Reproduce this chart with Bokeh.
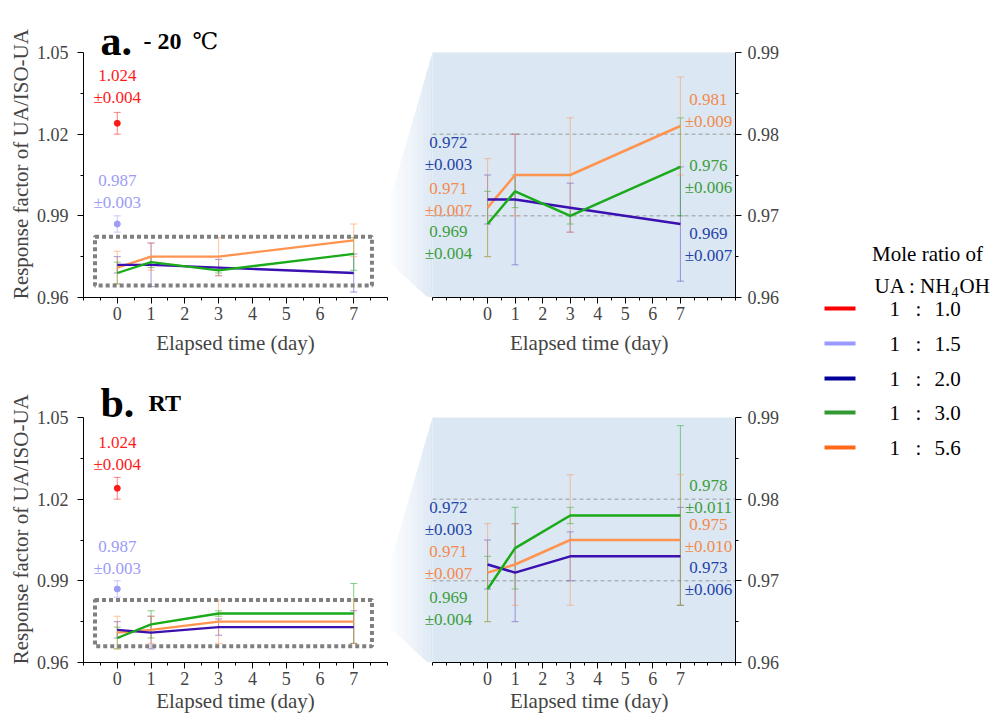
import numpy as np
from bokeh.plotting import figure
from bokeh.models import Range1d, FixedTicker
from bokeh.layouts import row, column
from bokeh.embed import file_html
from bokeh.resources import INLINE
from bokeh.core.properties import value

FONT = "Liberation Serif"

# ---------------- data ----------------
days = [0, 1, 3, 7]
day0 = [0]

# -20 C storage
cold_blue = [0.972, 0.972, 0.971, 0.969]
cold_blue_err = [0.003, 0.008, 0.003, 0.007]
cold_green = [0.969, 0.973, 0.970, 0.976]
cold_green_err = [0.004, 0.002, 0.001, 0.006]
cold_orange = [0.971, 0.975, 0.975, 0.981]
cold_orange_err = [0.006, 0.005, 0.007, 0.006]

# room temperature storage
rt_blue = [0.972, 0.971, 0.973, 0.973]
rt_blue_err = [0.003, 0.006, 0.003, 0.006]
rt_green = [0.969, 0.974, 0.978, 0.978]
rt_green_err = [0.004, 0.005, 0.001, 0.011]
rt_orange = [0.971, 0.972, 0.975, 0.975]
rt_orange_err = [0.006, 0.005, 0.008, 0.008]

red_val = [1.024]
red_err = [0.004]
lilac_val = [0.987]
lilac_err = [0.003]

# annotation texts
main_notes = ["1.024\n±0.004", "0.987\n±0.003"]
cold_left_notes = ["0.972\n±0.003", "0.971\n±0.007", "0.969\n±0.004"]
cold_right_notes = ["0.981\n±0.009", "0.976\n±0.006", "0.969\n±0.007"]
rt_left_notes = ["0.972\n±0.003", "0.971\n±0.007", "0.969\n±0.004"]
rt_right_notes = ["0.978\n±0.011", "0.975\n±0.010", "0.973\n±0.006"]

# ticks
left_yticks = [0.96, 0.99, 1.02, 1.05]
left_yminor = [0.975, 1.005, 1.035]
zoom_yticks = [0.96, 0.97, 0.98, 0.99]
zoom_yminor = [0.965, 0.975, 0.985]
grid_levels = [0.97, 0.98]
xticks = [0, 1, 2, 3, 4, 5, 6, 7]

legend_ratios = ["1.0", "1.5", "2.0", "3.0", "5.6"]
legend_colors = ["#ff0000", "#9999ff", "#000099", "#339933", "#ff6a1a"]

# ---------------- styles ----------------
C_RED = "#ff1a1a"
C_LILAC = "#9c9cf7"
C_BLUE = "#3a10b0"
C_GREEN = "#1aaa1a"
C_ORANGE = "#ff9450"
T_BLUE = "#2543a8"
T_GREEN = "#3d9e3d"
T_ORANGE = "#f38a4c"
BG = "#dbe7f3"
NB = "\u00a0"

FH = 245                 # height of the data part of every frame
TOP_B = [52, 57]         # page distance above the data part
EXT = [48, 53]           # extra frame height above the data part (title room)
BOT_B = [63, 53]
LW = 304
RW = 345
TITLE_GAP = [12, 15]
YPAD = [5, 6]            # non-breaking spaces to nudge the y label toward the data part
XLAB_STANDOFF = [8, 1]


def style_axes(p):
    for ax in p.axis:
        ax.major_label_text_font = FONT
        ax.major_label_text_font_size = "18px"
        ax.axis_label_text_font = FONT
        ax.axis_label_text_font_size = "21px"
        ax.axis_label_text_font_style = "normal"
        ax.major_tick_in = 0
        ax.major_tick_out = 6
        ax.minor_tick_in = 0
        ax.minor_tick_out = 3
        ax.axis_line_color = "black"
        ax.major_tick_line_color = "black"
        ax.minor_tick_line_color = "black"
    p.xgrid.visible = False
    p.ygrid.visible = False
    p.outline_line_color = None


def errbars(p, x, v, e, color, alpha=0.55):
    v = np.array(v)
    e = np.array(e)
    lo = v - e
    hi = v + e
    p.segment(x0=x, y0=lo, x1=x, y1=hi, line_color=color, line_alpha=alpha, line_width=1)
    p.scatter(list(x) + list(x), list(lo) + list(hi), marker="dash", size=7,
              line_color=color, line_alpha=alpha, line_width=1)


def left_panel(i, blue, be, green, ge, orange, oe, tmain, tsub, sub_dx, deg_dx, note_y, box_y):
    ext = EXT[i]
    ytop = 1.05 + ext * 0.09 / FH
    p = figure(frame_width=LW, frame_height=FH + ext, x_range=Range1d(-1, 8), y_range=Range1d(0.96, ytop),
               output_backend="svg", toolbar_location=None,
               min_border_left=83, min_border_right=3, min_border_top=TOP_B[i] - ext,
               min_border_bottom=BOT_B[i])
    style_axes(p)
    p.yaxis.bounds = (0.96, 1.05)
    p.xaxis.ticker = FixedTicker(ticks=xticks, minor_ticks=list(np.arange(-1, 8.01, 0.5)))
    p.yaxis.ticker = FixedTicker(ticks=left_yticks, minor_ticks=left_yminor)
    p.yaxis.formatter.use_scientific = False
    p.xaxis.axis_label = "Elapsed time (day)"
    p.yaxis.axis_label = "Response factor of UA/ISO-UA" + NB * YPAD[i]
    p.yaxis.major_label_standoff = 9
    p.yaxis.axis_label_standoff = 1
    p.xaxis.major_label_standoff = 3
    p.xaxis.axis_label_standoff = XLAB_STANDOFF[i]

    errbars(p, day0, red_val, red_err, C_RED)
    errbars(p, day0, lilac_val, lilac_err, C_LILAC)
    errbars(p, days, blue, be, C_BLUE, 0.45)
    errbars(p, days, green, ge, C_GREEN)
    errbars(p, days, orange, oe, C_ORANGE)
    p.line(days, orange, line_color=C_ORANGE, line_width=2.3)
    p.line(days, blue, line_color=C_BLUE, line_width=2.3)
    p.line(days, green, line_color=C_GREEN, line_width=2.3)
    p.scatter(day0, red_val, size=6, color=C_RED)
    p.scatter(day0, lilac_val, size=6, color=C_LILAC)

    p.quad(left=-0.66, right=7.54, bottom=box_y[0], top=box_y[1], fill_color=None,
           line_color="#808080", line_width=4, line_dash="4 3")

    p.text(x=[0, 0], y=note_y, text=main_notes, text_color=[C_RED, C_LILAC],
           text_font=value(FONT), text_font_size="17px", text_align="center",
           text_baseline="middle", text_line_height=1.15)

    ypx = 0.09 / FH
    xpx = 9 / LW
    yt = 1.05 + TITLE_GAP[i] * ypx
    p.text(x=[-1 + 17 * xpx], y=[yt], text=[tmain], text_font=value(FONT), text_font_size="42px",
           text_font_style="bold", text_baseline="alphabetic", text_align="left", text_color="black")
    p.text(x=[-1 + sub_dx * xpx], y=[yt], text=[tsub], text_font=value(FONT), text_font_size="24px",
           text_font_style="bold", text_baseline="alphabetic", text_align="left", text_color="black")
    if deg_dx is not None:
        p.text(x=[-1 + deg_dx * xpx], y=[yt], text=["℃"], text_font=value("DejaVu Serif"),
               text_font_size="23px", text_baseline="alphabetic", text_align="left", text_color="black")
    return p


def right_panel(i, blue, be, green, ge, orange, oe, lnotes, lnote_y, lcols, rnotes, rnote_y, rcols):
    ext = EXT[i]
    upx = 303 / 11.0
    x0 = -2 - 42 / upx
    ytop = 0.99 + ext * 0.03 / FH
    p = figure(frame_width=RW, frame_height=FH + ext, x_range=Range1d(x0, 9), y_range=Range1d(0.96, ytop),
               output_backend="svg", toolbar_location=None, y_axis_location="right",
               min_border_left=0, min_border_right=45, min_border_top=TOP_B[i] - ext,
               min_border_bottom=BOT_B[i])
    style_axes(p)
    p.xaxis.bounds = (-2, 9)
    p.yaxis.bounds = (0.96, 0.99)
    p.xaxis.ticker = FixedTicker(ticks=xticks, minor_ticks=list(np.arange(-2, 9.01, 0.5)))
    p.yaxis.ticker = FixedTicker(ticks=zoom_yticks, minor_ticks=zoom_yminor)
    p.yaxis.formatter.use_scientific = False
    p.yaxis.major_label_standoff = 6
    p.xaxis.axis_label = NB * 10 + "Elapsed time (day)"
    p.xaxis.major_label_standoff = 3
    p.xaxis.axis_label_standoff = XLAB_STANDOFF[i]

    # zoom background + fading wedge
    xa, ya = -4.07, 0.9659
    xt, xb = -2.0, -2.18
    p.quad(left=-2, right=9, bottom=0.96, top=0.99, fill_color=BG, line_color=None)
    n = 18
    edges = np.linspace(xa, xt, n + 1)

    def top(x):
        return np.minimum(ya + (0.99 - ya) * (x - xa) / (xt - xa), 0.99)

    def bot(x):
        return np.maximum(ya + (0.96 - ya) * (x - xa) / (xb - xa), 0.96)

    xs, ys, al = [], [], []
    for k in range(n):
        a, b = edges[k], edges[k + 1]
        xs.append([a, b, b, a])
        ys.append([top(a), top(b), bot(b), bot(a)])
        al.append(((k + 0.5) / n) ** 1.6)
    p.patches(xs, ys, fill_color=BG, fill_alpha=al, line_color=None)

    p.segment(x0=[-2] * len(grid_levels), x1=[9] * len(grid_levels), y0=grid_levels, y1=grid_levels,
              line_color="#9a9a9a", line_width=1, line_dash="4 3")

    errbars(p, days, blue, be, C_BLUE, 0.4)
    errbars(p, days, green, ge, C_GREEN, 0.5)
    errbars(p, days, orange, oe, C_ORANGE, 0.5)
    p.line(days, orange, line_color=C_ORANGE, line_width=2.5)
    p.line(days, blue, line_color=C_BLUE, line_width=2.5)
    p.line(days, green, line_color=C_GREEN, line_width=2.5)

    p.text(x=[-1.42] * 3, y=lnote_y, text=lnotes, text_color=lcols,
           text_font=value(FONT), text_font_size="17px", text_align="center",
           text_baseline="middle", text_line_height=1.15)
    p.text(x=[8.02] * 3, y=rnote_y, text=rnotes, text_color=rcols,
           text_font=value(FONT), text_font_size="17px", text_align="center",
           text_baseline="middle", text_line_height=1.15)
    return p


pa_l = left_panel(0, cold_blue, cold_blue_err, cold_green, cold_green_err, cold_orange, cold_orange_err,
                  "a.", "- 20", 60, 109, [1.0374, 0.9988], (0.9644, 0.9823))
pa_r = right_panel(0, cold_blue, cold_blue_err, cold_green, cold_green_err, cold_orange, cold_orange_err,
                   cold_left_notes, [0.9776, 0.9720, 0.9667], [T_BLUE, T_ORANGE, T_GREEN],
                   cold_right_notes, [0.9829, 0.9748, 0.9665], [T_ORANGE, T_GREEN, T_BLUE])
pb_l = left_panel(1, rt_blue, rt_blue_err, rt_green, rt_green_err, rt_orange, rt_orange_err,
                  "b.", "RT", 65, None, [1.0368, 0.9986], (0.9660, 0.9830))
pb_r = right_panel(1, rt_blue, rt_blue_err, rt_green, rt_green_err, rt_orange, rt_orange_err,
                   rt_left_notes, [0.9776, 0.9722, 0.9666], [T_BLUE, T_ORANGE, T_GREEN],
                   rt_right_notes, [0.9803, 0.9756, 0.9703], [T_GREEN, T_ORANGE, T_BLUE])

# ---------------- legend ----------------
TOTAL_H = TOP_B[0] + FH + BOT_B[0] + TOP_B[1] + FH + BOT_B[1]
LEG_W = 209
X0 = 780  # page x of the legend figure
lg = figure(width=LEG_W, height=TOTAL_H, x_range=Range1d(X0, X0 + LEG_W), y_range=Range1d(TOTAL_H, 0),
            x_axis_type=None, y_axis_type=None, output_backend="svg", toolbar_location=None,
            min_border=0)
lg.outline_line_color = None
lg.xgrid.visible = False
lg.ygrid.visible = False

tf = value(FONT)
lg.text(x=[925], y=[253], text=["Mole ratio of"], text_font=tf, text_font_size="21px",
        text_align="center", text_baseline="alphabetic", text_color="black")
lg.text(x=[872], y=[285], text=["UA : NH"], text_font=tf, text_font_size="21px",
        text_align="left", text_baseline="alphabetic", text_color="black")
lg.text(x=[949], y=[291], text=["4"], text_font=tf, text_font_size="14px",
        text_align="left", text_baseline="alphabetic", text_color="black")
lg.text(x=[957], y=[285], text=["OH"], text_font=tf, text_font_size="21px",
        text_align="left", text_baseline="alphabetic", text_color="black")

row_y = [308, 343, 378, 412, 447]
lg.segment(x0=[822] * 5, x1=[853] * 5, y0=row_y, y1=row_y, line_color=legend_colors, line_width=4)
lg.text(x=[887] * 5, y=row_y, text=["1"] * 5, text_font=tf, text_font_size="21px",
        text_align="left", text_baseline="middle", text_color="black")
lg.text(x=[913] * 5, y=row_y, text=[":"] * 5, text_font=tf, text_font_size="21px",
        text_align="left", text_baseline="middle", text_color="black")
lg.text(x=[932] * 5, y=row_y, text=legend_ratios, text_font=tf, text_font_size="21px",
        text_align="left", text_baseline="middle", text_color="black")

layout = row(column(row(pa_l, pa_r), row(pb_l, pb_r)), lg)

open("out.html", "w").write(file_html(layout, INLINE))
